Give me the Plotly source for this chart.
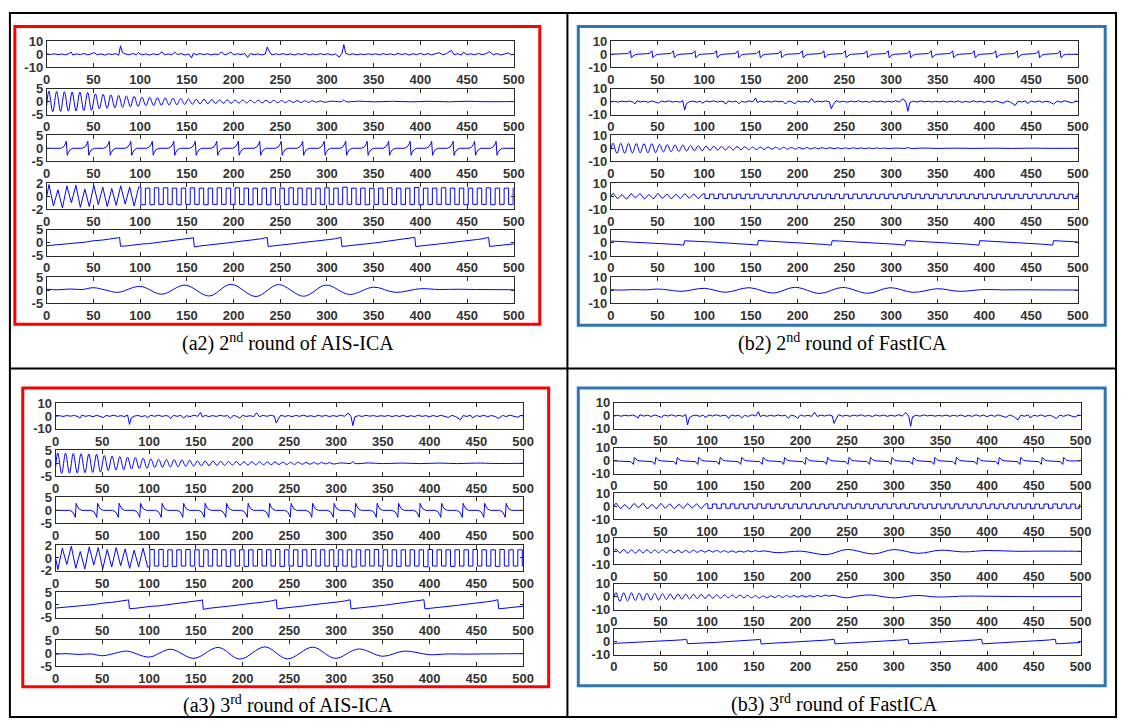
import plotly.graph_objects as go

W, H = 1130, 727

# ---------------------------------------------------------------- data
TICKS_X = [0, 50, 100, 150, 200, 250, 300, 350, 400, 450, 500]

# impulsive noise source: (sample, value)
S1_NOISE = [
    (0, 0.3), (4, -0.2), (8, 0.4), (12, -0.3), (16, 0.2), (20, -0.4), (24, 0.5), (26, 1.8),
    (28, -0.6), (32, 0.3), (36, -0.3), (40, 0.6), (44, -0.5), (48, 0.2), (51, 1.2), (54, -0.4),
    (58, 0.3), (62, -0.6), (66, 0.4), (70, -0.2), (74, 0.5), (77, -0.8), (79, 6.5), (81, 1.5),
    (84, 0.2), (88, -0.4), (92, 0.5), (96, -0.3), (98, 1.3), (102, -0.5), (106, 0.3), (110, -0.6),
    (114, 0.4), (118, -0.3), (121, 0.2), (123, 2.0), (126, -0.5), (130, 0.3), (134, -0.4),
    (137, 1.6), (140, -0.2), (144, 0.5), (148, -0.6), (152, 0.3), (155, -2.8), (157, 0.8),
    (160, -0.4), (164, 0.5), (168, -0.3), (172, 0.4), (176, -0.5), (180, 0.2), (184, -0.3),
    (187, 1.9), (190, -0.4), (194, 0.3), (197, 1.8), (200, -0.5), (204, 0.4), (208, -0.2),
    (212, 0.5), (215, -2.4), (218, 0.6), (222, -0.4), (226, 0.3), (230, -0.5), (234, 0.2),
    (236, 5.5), (238, 2.5), (241, -0.6), (245, 0.4), (249, -0.3), (253, 0.5), (257, -0.4),
    (261, 0.3), (265, -0.6), (269, 0.4), (273, -0.2), (277, 0.6), (281, -0.5), (285, 0.3),
    (289, -0.4), (293, 0.5), (297, -0.3), (301, 0.4), (305, -0.6), (309, 0.3), (313, -2.2),
    (316, 0.5), (318, 7.5), (320, 0.8), (324, -0.3), (328, 0.4), (332, -0.5), (336, 0.2),
    (340, -0.3), (344, 0.4), (348, -0.2), (352, 0.3), (356, -0.4), (360, 0.5), (364, -0.3),
    (368, 0.4), (372, -0.5), (376, 0.6), (380, -0.2), (384, 0.5), (388, -0.6), (392, 0.4),
    (396, -0.3), (400, 0.7), (404, -0.4), (408, 0.5), (412, -0.5), (416, 0.3), (420, 1.2),
    (424, -0.4), (428, 0.5), (433, 3.0), (436, -0.3), (440, 0.4), (444, -0.6), (446, 1.5),
    (450, -0.3), (454, 0.4), (458, -0.5), (462, 0.6), (466, -0.3), (470, 0.4), (474, 2.0),
    (478, -0.4), (482, 0.5), (486, -0.6), (490, 0.3), (494, 1.0), (498, -0.5), (500, 0.2),
]

# decaying sinusoid source: extrema (sample, value)
S2_DECAY = [
    (0, -1.5), (2.3, 4.0), (6.5, -3.9), (10.6, 3.9), (14.8, -3.8), (18.9, 3.8), (23.1, -3.7),
    (27.2, 3.7), (31.4, -3.6), (35.5, 3.6), (39.7, -3.5), (43.8, 3.5), (48.0, -3.4),
    (52.1, 3.0), (56.3, -2.8), (60.4, 2.8), (64.6, -2.6), (68.7, 2.6), (72.9, -2.4),
    (77.0, 2.4), (81.2, -2.2), (85.3, 2.2), (89.5, -2.0), (93.6, 2.0), (97.8, -1.9),
    (101.9, 1.7), (106.1, -1.6), (110.2, 1.6), (114.4, -1.5), (118.5, 1.5), (122.7, -1.4),
    (126.8, 1.4), (131.0, -1.3), (135.1, 1.3), (139.3, -1.2), (143.4, 1.2), (147.6, -1.1),
    (151.7, 1.0), (155.9, -1.0), (160.0, 0.9), (164.2, -0.9), (168.3, 0.9), (172.5, -0.8),
    (176.6, 0.8), (180.8, -0.8), (184.9, 0.7), (189.1, -0.7), (193.2, 0.7), (197.4, -0.7),
    (201.5, 0.6), (205.7, -0.6), (209.8, 0.6), (214.0, -0.55), (218.1, 0.55), (222.3, -0.5),
    (226.4, 0.5), (230.6, -0.5), (234.7, 0.5), (238.9, -0.45), (243.0, 0.45), (247.2, -0.45),
    (251.3, 0.4), (255.5, -0.4), (259.6, 0.4), (263.8, -0.35), (267.9, 0.35), (272.1, -0.35),
    (276.2, 0.3), (280.4, -0.3), (284.5, 0.3), (288.7, -0.25), (292.8, 0.25), (297.0, -0.25),
    (305, 0.15), (316, 0.0), (318, 0.7), (320, 0.0), (335, 0.15), (350, -0.1), (370, 0.1),
    (390, -0.1), (410, 0.1), (430, -0.1), (450, 0.1), (470, -0.05), (500, 0.0),
]

# periodic spike train: spike instants, and the spike profile around each instant
S3_SPIKE_T = [21, 44, 67, 90, 113, 136, 159, 182, 205, 228, 251, 274, 297, 320, 343,
              366, 389, 412, 435, 458, 481]
S3_SPIKE_DX = [-6, -3, -2, -1, 0, 1, 2, 3, 4, 7]
S3_SPIKE_Y = [0.0, 0.55, 1.0, 1.7, 2.7, -2.7, -1.7, -1.0, -0.55, 0.0]

# square wave source: irregular onset, then (edge, level) steps
S4_ONSET = [
    (0, 0.0), (2.4, 1.8), (7.2, -1.5), (12.0, 1.0), (16.8, -1.8), (21.6, 1.6), (26.4, -1.0),
    (31.2, 1.7), (36.0, -1.7), (40.8, 1.1), (45.6, -1.6), (50.4, 1.7), (55.2, -1.3),
    (60.0, 1.4), (64.8, -1.6), (69.6, 1.2), (74.4, -1.4), (79.2, 1.6), (84.0, -1.2),
    (88.8, 1.4), (93.6, -1.5), (98.4, 1.4),
]
S4_STEPS = [
    (98.4, 1.4), (100.8, -1.3), (105.6, 1.25), (110.4, -1.3), (115.2, 1.3), (120.0, -1.25),
    (124.8, 1.3), (129.6, -1.25), (134.4, 1.25), (139.2, -1.3), (144.0, 1.25), (148.8, -1.25),
    (153.6, 1.3), (158.4, -1.25), (163.2, 1.25), (168.0, -1.3), (172.8, 1.25), (177.6, -1.25),
    (182.4, 1.3), (187.2, -1.25), (192.0, 1.25), (196.8, -1.25), (201.6, 1.3), (206.4, -1.25),
    (211.2, 1.25), (216.0, -1.3), (220.8, 1.25), (225.6, -1.25), (230.4, 1.25), (235.2, -1.3),
    (240.0, 1.3), (244.8, -1.25), (249.6, 1.25), (254.4, -1.25), (259.2, 1.3), (264.0, -1.25),
    (268.8, 1.25), (273.6, -1.3), (278.4, 1.25), (283.2, -1.25), (288.0, 1.25), (292.8, -1.25),
    (297.6, 1.3), (302.4, -1.25), (307.2, 1.25), (312.0, -1.25), (316.8, 1.4), (321.6, -1.25),
    (326.4, 1.25), (331.2, -1.25), (336.0, 1.25), (340.8, -1.3), (345.6, 1.25), (350.4, -1.25),
    (355.2, 1.25), (360.0, -1.25), (364.8, 1.3), (369.6, -1.25), (374.4, 1.25), (379.2, -1.25),
    (384.0, 1.25), (388.8, -1.25), (393.6, 1.35), (398.4, -1.3), (403.2, 1.25), (408.0, -1.25),
    (412.8, 1.25), (417.6, -1.25), (422.4, 1.3), (427.2, -1.25), (432.0, 1.25), (436.8, -1.25),
    (441.6, 1.25), (446.4, -1.3), (451.2, 1.25), (456.0, -1.25), (460.8, 1.25), (465.6, -1.25),
    (470.4, 1.3), (475.2, -1.3), (480.0, 1.25), (484.8, -1.25), (489.6, 1.25), (494.4, -1.25),
    (499.2, 1.25), (500, 1.25),
]

# sawtooth source
S5_SAW = [
    (0, -1.2), (6, -1.0), (12, -0.9), (18, -0.5), (24, -0.4), (30, -0.1), (36, 0.1), (42, 0.2),
    (48, 0.6), (54, 0.7), (60, 1.0), (66, 1.3), (72, 1.5), (77, 1.9), (78, 2.0), (79, -1.4),
    (85, -1.3), (91, -1.0), (97, -0.9), (103, -0.5), (109, -0.4), (115, -0.1), (121, 0.1),
    (127, 0.3), (133, 0.5), (139, 0.8), (145, 1.2), (151, 1.4), (156, 1.8), (157, 2.0),
    (158, -1.7), (164, -1.3), (170, -1.1), (176, -0.8), (182, -0.6), (188, -0.3), (194, -0.1),
    (200, 0.2), (206, 0.4), (212, 0.6), (218, 0.9), (224, 1.2), (230, 1.5), (235, 1.8),
    (236, 2.0), (237, -1.5), (243, -1.3), (249, -1.0), (255, -0.8), (261, -0.5), (267, -0.3),
    (273, 0.0), (279, 0.2), (285, 0.4), (291, 0.7), (297, 1.0), (303, 1.2), (309, 1.5),
    (314, 1.8), (315, 2.0), (316, -1.5), (322, -1.3), (328, -1.1), (334, -0.8), (340, -0.6),
    (346, -0.3), (352, -0.1), (358, 0.2), (364, 0.5), (370, 0.6), (376, 0.9), (382, 1.2),
    (388, 1.5), (393, 1.8), (394, 2.0), (395, -1.5), (401, -1.3), (407, -1.0), (413, -0.9),
    (419, -0.5), (425, -0.3), (431, -0.1), (437, 0.2), (443, 0.4), (449, 0.7), (455, 1.0),
    (461, 1.2), (467, 1.5), (472, 1.8), (473, 2.0), (474, -1.5), (480, -1.3), (486, -1.0),
    (492, -0.9), (498, -0.6), (500, -0.5),
]

# amplitude-modulated slow sinusoid source: extrema
S6_AM = [
    (0, 0.4), (12, 0.2), (25, 0.5), (38, 0.3), (50, 1.0), (63, 0.1), (76, -0.8), (100, 1.5),
    (123, -1.5), (148, 2.0), (174, -2.2), (197, 2.3), (224, -2.4), (248, 2.2), (275, -2.3),
    (299, 2.0), (324, -1.6), (350, 1.2), (373, -0.8), (400, 0.6), (420, 0.3), (440, 0.4),
    (460, 0.3), (480, 0.25), (500, 0.2),
]

# FastICA 3rd round, 4th output: ripple plus slow oscillation
B3_OUT4 = [
    (0, 0.5), (2.3, 1.8), (6.5, -1.2), (10.6, 1.5), (14.8, -1.3), (18.9, 1.2), (23.1, -1.4),
    (27.2, 1.3), (31.4, -1.1), (35.5, 1.2), (39.7, -1.2), (43.8, 1.1), (48.0, -1.0),
    (52.1, 1.1), (56.3, -0.9), (60.4, 1.0), (64.6, -1.0), (68.7, 0.9), (72.9, -0.9),
    (77.0, 0.8), (81.2, -0.8), (85.3, 0.9), (89.5, -0.7), (93.6, 0.8), (97.8, -0.6),
    (101.9, 0.9), (106.1, -0.5), (110.2, 0.7), (114.4, -0.6), (118.5, 0.5), (122.7, -0.7),
    (126.8, 0.4), (131.0, -0.8), (135.1, 0.3), (139.3, -0.6), (143.4, 0.5), (147.6, -0.3),
    (151.7, 0.6), (155.9, -0.2), (160, 0.4), (175, -1.0), (200, 0.2), (228, -2.5), (250, 1.5),
    (278, -2.0), (300, 1.4), (326, -1.5), (350, 0.9), (375, -0.4), (400, 0.7), (430, 0.1),
    (460, 0.2), (500, 0.1),
]

# FastICA 3rd round, 5th output: decaying ripple with slow residue
B3_OUT5 = [
    (0, -1.0), (2.3, 3.2), (6.5, -3.6), (10.6, 3.0), (14.8, -3.3), (18.9, 2.9), (23.1, -3.0),
    (27.2, 2.7), (31.4, -2.9), (35.5, 2.6), (39.7, -2.7), (43.8, 2.5), (48.0, -2.6),
    (52.1, 2.3), (56.3, -2.3), (60.4, 2.2), (64.6, -2.1), (68.7, 2.1), (72.9, -1.9),
    (77.0, 1.9), (81.2, -1.8), (85.3, 1.8), (89.5, -1.6), (93.6, 1.7), (97.8, -1.4),
    (101.9, 1.6), (106.1, -1.3), (110.2, 1.4), (114.4, -1.2), (118.5, 1.3), (122.7, -1.0),
    (126.8, 1.3), (131.0, -0.9), (135.1, 1.2), (139.3, -0.9), (143.4, 1.0), (147.6, -1.0),
    (151.7, 0.8), (155.9, -1.1), (160.0, 0.6), (164.2, -1.0), (168.3, 0.7), (172.5, -0.8),
    (176.6, 0.9), (180.8, -0.6), (184.9, 0.9), (189.1, -0.4), (193.2, 0.9), (197.4, -0.4),
    (201.5, 0.8), (205.7, -0.3), (209.8, 0.8), (214.0, -0.2), (218.1, 0.9), (222.3, 0.1),
    (226.4, 1.2), (230.6, 0.3), (234.7, 1.1), (240, 0.2), (250, -0.9), (262, 0.6), (275, 1.3),
    (290, -0.2), (302, -1.0), (315, 0.3), (327, 0.9), (340, 0.0), (352, -0.3), (375, 0.4),
    (400, 0.3), (425, 0.1), (450, 0.0), (500, 0.0),
]

# which source each panel row shows, with its scale / sign
PANEL_ROWS = {
    "a2": [("noise", 1), ("decay", 1), ("spikes", 1), ("square", 1), ("saw", 1), ("am", 1)],
    "b2": [("spikes", 1), ("noise", -1), ("decay", 1), ("square", 1.3), ("saw", -1), ("am", 1)],
    "a3": [("noise", -1), ("decay", 1), ("spikes", -1), ("square", -1), ("saw", 1), ("am", -1)],
    "b3": [("noise", -1.1), ("spikes", -1), ("square", 1.3), ("b3out4", 1), ("b3out5", 1), ("saw", 1)],
}
PANEL_YLIM = {
    "a2": [10, 5, 5, 2, 5, 5],
    "b2": [10, 10, 10, 10, 10, 10],
    "a3": [10, 5, 5, 2, 5, 5],
    "b3": [10, 10, 10, 10, 10, 10],
}
CAPTIONS = {
    "a2": "(a2) 2<sup>nd</sup> round of AIS-ICA",
    "b2": "(b2) 2<sup>nd</sup> round of FastICA",
    "a3": "(a3) 3<sup>rd</sup> round of AIS-ICA",
    "b3": "(b3) 3<sup>rd</sup> round of FastICA",
}

# ---------------------------------------------------------------- layout geometry (pixels)
GEOM = {
    "a2": dict(x=(43.3, 516.7), tops=[35, 83.3, 131, 180, 227.3, 276], h=26.5,
               box=(11, 20, 543, 324), color="#ff0000", cap=(288, 343)),
    "b2": dict(x=(615, 1088.3), tops=[35, 83.3, 131, 180, 227.3, 276], h=26.5,
               box=(582, 20, 1116, 325), color="#2f75b5", cap=(850, 343)),
    "a3": dict(x=(52.3, 526), tops=[404.3, 452.7, 500.7, 549.3, 597.3, 646.5], h=26.5,
               box=(19, 389, 552, 694), color="#ff0000", cap=(288, 712)),
    "b3": dict(x=(618, 1091), tops=[404, 450.2, 496.4, 542.6, 588.8, 635], h=26.5,
               box=(582, 389, 1116, 693), color="#2f75b5", cap=(842, 711)),
}

LINE_BLUE = "#0000ff"
AXIS_COL = "#2a2a2a"
TICK_FONT = dict(family="Liberation Sans, Arial, sans-serif", size=13, color="#333333", weight="bold")


def px(xp):
    return xp / W


def py(yp):
    return 1 - yp / H


def unzip(pairs):
    return [p[0] for p in pairs], [p[1] for p in pairs]


def spike_train():
    xs, ys = [0], [0.0]
    for t in S3_SPIKE_T:
        for dx, v in zip(S3_SPIKE_DX, S3_SPIKE_Y):
            xs.append(t + dx)
            ys.append(v)
    xs.append(500)
    ys.append(0.0)
    return xs, ys


SOURCES = {
    "noise": [(unzip(S1_NOISE), "linear")],
    "decay": [(unzip(S2_DECAY), "spline")],
    "spikes": [(spike_train(), "linear")],
    "square": [(unzip(S4_ONSET), "linear"), (unzip(S4_STEPS), "hv")],
    "saw": [(unzip(S5_SAW), "linear")],
    "am": [(unzip(S6_AM), "spline")],
    "b3out4": [(unzip(B3_OUT4), "spline")],
    "b3out5": [(unzip(B3_OUT5), "spline")],
}

fig = go.Figure()
layout = dict(width=W, height=H, margin=dict(l=0, r=0, t=0, b=0),
              paper_bgcolor="white", plot_bgcolor="white", showlegend=False)

idx = 0
for panel in ["a2", "b2", "a3", "b3"]:
    g = GEOM[panel]
    for r, (src, gain) in enumerate(PANEL_ROWS[panel]):
        idx += 1
        sfx = "" if idx == 1 else str(idx)
        lim = PANEL_YLIM[panel][r]
        top = g["tops"][r]
        bot = top + g["h"]
        layout["xaxis" + sfx] = dict(
            domain=[px(g["x"][0]), px(g["x"][1])], anchor="y" + sfx, range=[0, 500],
            tickvals=TICKS_X, ticktext=[str(t) for t in TICKS_X], ticks="inside", ticklen=4,
            tickwidth=1, tickcolor=AXIS_COL, showline=True, linecolor=AXIS_COL, linewidth=1,
            mirror="ticks", showgrid=False, zeroline=False, tickfont=TICK_FONT, fixedrange=True)
        layout["yaxis" + sfx] = dict(
            domain=[py(bot), py(top)], anchor="x" + sfx, range=[-lim, lim],
            tickvals=[-lim, 0, lim], ticktext=[str(-lim), "0", str(lim)], ticks="inside",
            ticklen=3, tickwidth=1, tickcolor=AXIS_COL, showline=True, linecolor=AXIS_COL,
            linewidth=1, mirror="ticks", showgrid=False, zeroline=False, tickfont=TICK_FONT,
            fixedrange=True)
        for (xs, ys), shape in SOURCES[src]:
            fig.add_trace(go.Scatter(
                x=xs, y=[v * gain for v in ys], mode="lines",
                line=dict(color=LINE_BLUE, width=1, shape=shape),
                xaxis="x" + sfx, yaxis="y" + sfx, hoverinfo="skip"))

shapes = []
# table rules
for x0, y0, x1, y1 in [(5, 6, 1128, 6), (5, 725, 1128, 725), (6, 5, 6, 726),
                       (1127, 5, 1127, 726), (571, 5, 571, 726), (5, 369, 1128, 369)]:
    shapes.append(dict(type="line", xref="paper", yref="paper", x0=px(x0), y0=py(y0),
                       x1=px(x1), y1=py(y1), line=dict(color="black", width=2)))
annotations = []
for panel, g in GEOM.items():
    bx0, by0, bx1, by1 = g["box"]
    shapes.append(dict(type="rect", xref="paper", yref="paper", x0=px(bx0), y0=py(by0),
                       x1=px(bx1), y1=py(by1), line=dict(color=g["color"], width=3),
                       fillcolor="rgba(0,0,0,0)"))
    cx, cy = g["cap"]
    annotations.append(dict(text=CAPTIONS[panel], xref="paper", yref="paper", x=px(cx),
                            y=py(cy), xanchor="center", yanchor="middle", showarrow=False,
                            font=dict(family="Liberation Serif, Times New Roman, serif",
                                      size=20, color="black")))
layout["shapes"] = shapes
layout["annotations"] = annotations
fig.update_layout(**layout)
fig.write_html("out.html")
